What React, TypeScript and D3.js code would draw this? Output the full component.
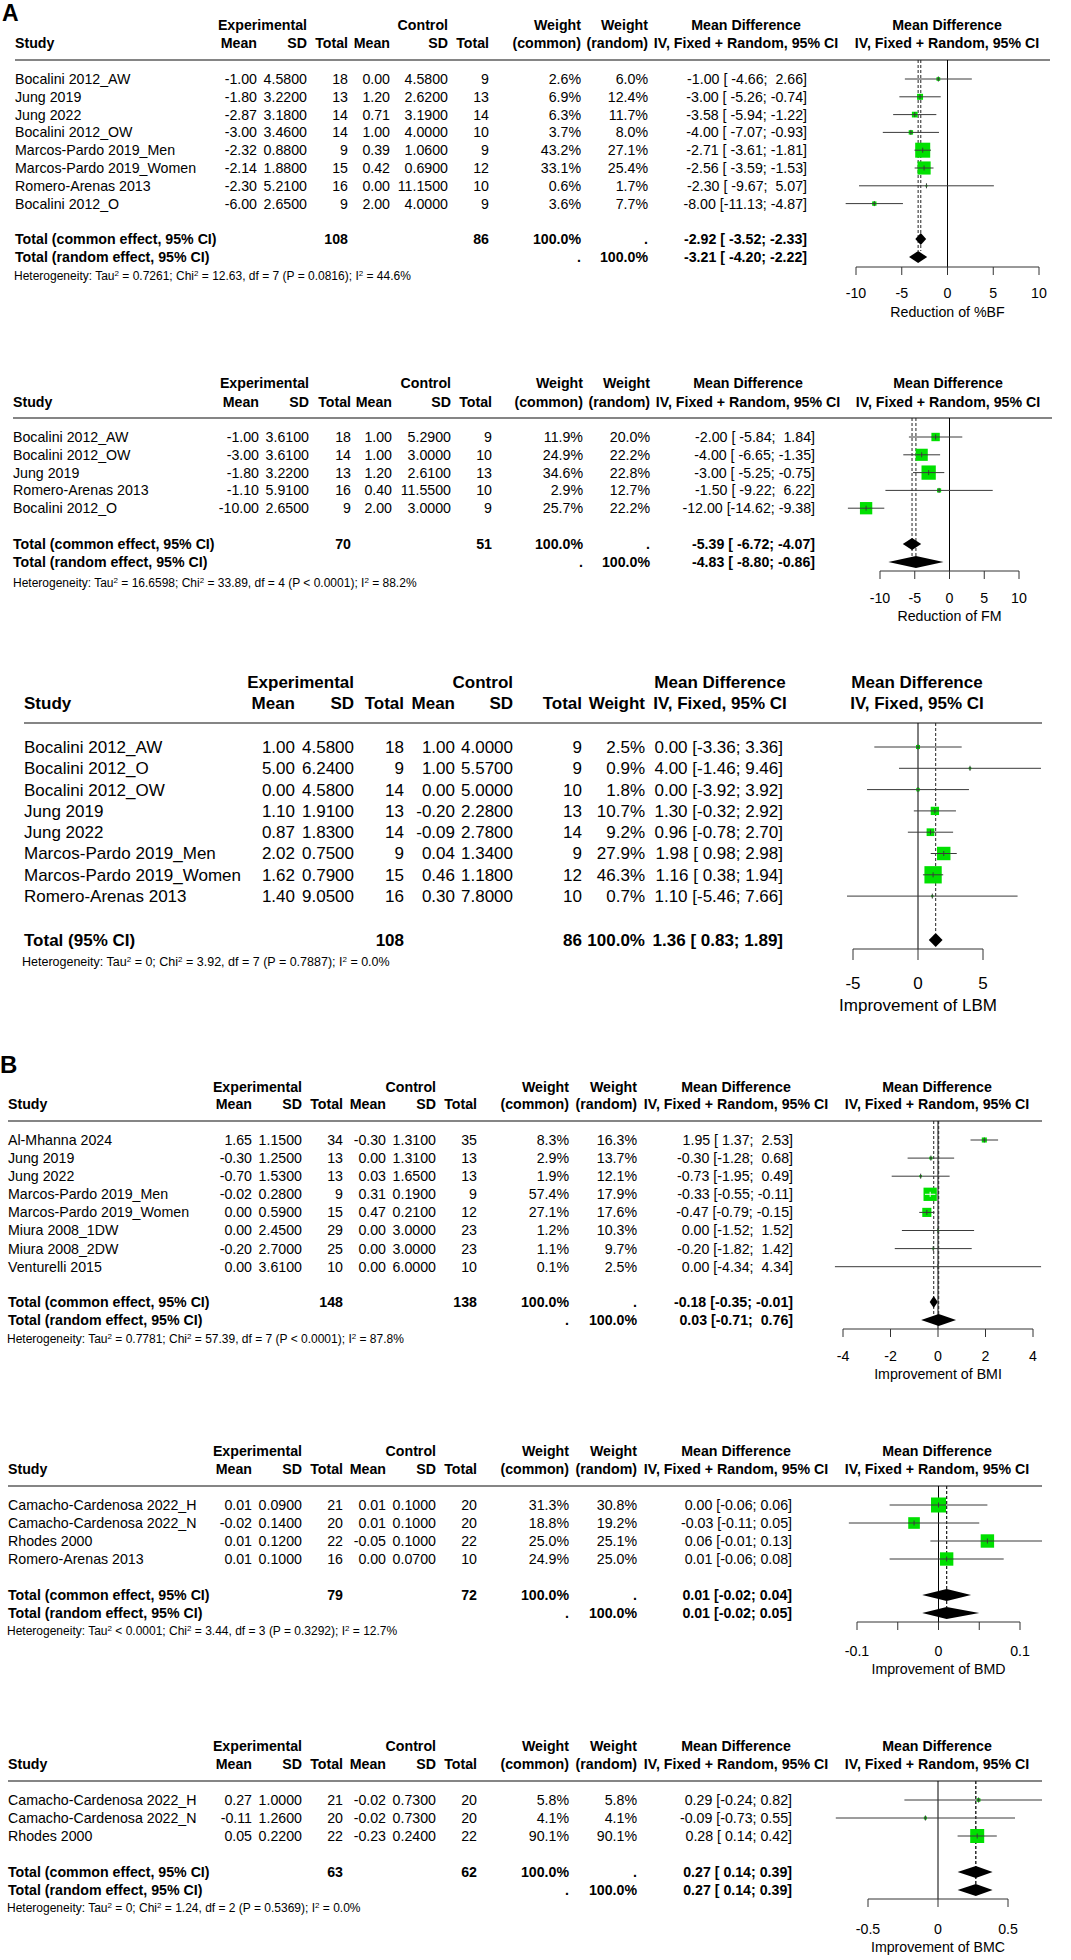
import React from 'react';
import * as d3 from 'd3';

const FONT = '"Liberation Sans", Arial, Helvetica, sans-serif';
const GREEN = '#00e000';
const LINE = '#3a3a3a';

// ---------- A: reduction of %BF ----------
const bfStudies = ['Bocalini 2012_AW', 'Jung 2019', 'Jung 2022', 'Bocalini 2012_OW', 'Marcos-Pardo 2019_Men', 'Marcos-Pardo 2019_Women', 'Romero-Arenas 2013', 'Bocalini 2012_O'];
const bfExpMean = [-1.0, -1.8, -2.87, -3.0, -2.32, -2.14, -2.3, -6.0];
const bfExpSd = [4.58, 3.22, 3.18, 3.46, 0.88, 1.88, 5.21, 2.65];
const bfExpN = [18, 13, 14, 14, 9, 15, 16, 9];
const bfCtlMean = [0.0, 1.2, 0.71, 1.0, 0.39, 0.42, 0.0, 2.0];
const bfCtlSd = [4.58, 2.62, 3.19, 4.0, 1.06, 0.69, 11.15, 4.0];
const bfCtlN = [9, 13, 14, 10, 9, 12, 10, 9];
const bfWCommon = [2.6, 6.9, 6.3, 3.7, 43.2, 33.1, 0.6, 3.6];
const bfWRandom = [6.0, 12.4, 11.7, 8.0, 27.1, 25.4, 1.7, 7.7];
const bfMd = [-1.0, -3.0, -3.58, -4.0, -2.71, -2.56, -2.3, -8.0];
const bfLo = [-4.66, -5.26, -5.94, -7.07, -3.61, -3.59, -9.67, -11.13];
const bfHi = [2.66, -0.74, -1.22, -0.93, -1.81, -1.53, 5.07, -4.87];
const bfTotals = [108, 86];
const bfCommon = [-2.92, -3.52, -2.33];
const bfRandom = [-3.21, -4.2, -2.22];
const bfHet = ['= 0.7261', '12.63', '7', '= 0.0816', '44.6'];
const bfTicks = [-10, -5, 0, 5, 10];

// ---------- A: reduction of FM ----------
const fmStudies = ['Bocalini 2012_AW', 'Bocalini 2012_OW', 'Jung 2019', 'Romero-Arenas 2013', 'Bocalini 2012_O'];
const fmExpMean = [-1.0, -3.0, -1.8, -1.1, -10.0];
const fmExpSd = [3.61, 3.61, 3.22, 5.91, 2.65];
const fmExpN = [18, 14, 13, 16, 9];
const fmCtlMean = [1.0, 1.0, 1.2, 0.4, 2.0];
const fmCtlSd = [5.29, 3.0, 2.61, 11.55, 3.0];
const fmCtlN = [9, 10, 13, 10, 9];
const fmWCommon = [11.9, 24.9, 34.6, 2.9, 25.7];
const fmWRandom = [20.0, 22.2, 22.8, 12.7, 22.2];
const fmMd = [-2.0, -4.0, -3.0, -1.5, -12.0];
const fmLo = [-5.84, -6.65, -5.25, -9.22, -14.62];
const fmHi = [1.84, -1.35, -0.75, 6.22, -9.38];
const fmTotals = [70, 51];
const fmCommon = [-5.39, -6.72, -4.07];
const fmRandom = [-4.83, -8.8, -0.86];
const fmHet = ['= 16.6598', '33.89', '4', '< 0.0001', '88.2'];
const fmTicks = [-10, -5, 0, 5, 10];

// ---------- A: improvement of LBM (fixed only) ----------
const lbmStudies = ['Bocalini 2012_AW', 'Bocalini 2012_O', 'Bocalini 2012_OW', 'Jung 2019', 'Jung 2022', 'Marcos-Pardo 2019_Men', 'Marcos-Pardo 2019_Women', 'Romero-Arenas 2013'];
const lbmExpMean = [1.0, 5.0, 0.0, 1.1, 0.87, 2.02, 1.62, 1.4];
const lbmExpSd = [4.58, 6.24, 4.58, 1.91, 1.83, 0.75, 0.79, 9.05];
const lbmExpN = [18, 9, 14, 13, 14, 9, 15, 16];
const lbmCtlMean = [1.0, 1.0, 0.0, -0.2, -0.09, 0.04, 0.46, 0.3];
const lbmCtlSd = [4.0, 5.57, 5.0, 2.28, 2.78, 1.34, 1.18, 7.8];
const lbmCtlN = [9, 9, 10, 13, 14, 9, 12, 10];
const lbmWeight = [2.5, 0.9, 1.8, 10.7, 9.2, 27.9, 46.3, 0.7];
const lbmMd = [0.0, 4.0, 0.0, 1.3, 0.96, 1.98, 1.16, 1.1];
const lbmLo = [-3.36, -1.46, -3.92, -0.32, -0.78, 0.98, 0.38, -5.46];
const lbmHi = [3.36, 9.46, 3.92, 2.92, 2.7, 2.98, 1.94, 7.66];
const lbmTotals = [108, 86];
const lbmCommon = [1.36, 0.83, 1.89];
const lbmHet = ['= 0', '3.92', '7', '= 0.7887', '0.0'];
const lbmTicks = [-5, 0, 5];

// ---------- B: improvement of BMI ----------
const bmiStudies = ['Al-Mhanna 2024', 'Jung 2019', 'Jung 2022', 'Marcos-Pardo 2019_Men', 'Marcos-Pardo 2019_Women', 'Miura 2008_1DW', 'Miura 2008_2DW', 'Venturelli 2015'];
const bmiExpMean = [1.65, -0.3, -0.7, -0.02, 0.0, 0.0, -0.2, 0.0];
const bmiExpSd = [1.15, 1.25, 1.53, 0.28, 0.59, 2.45, 2.7, 3.61];
const bmiExpN = [34, 13, 13, 9, 15, 29, 25, 10];
const bmiCtlMean = [-0.3, 0.0, 0.03, 0.31, 0.47, 0.0, 0.0, 0.0];
const bmiCtlSd = [1.31, 1.31, 1.65, 0.19, 0.21, 3.0, 3.0, 6.0];
const bmiCtlN = [35, 13, 13, 9, 12, 23, 23, 10];
const bmiWCommon = [8.3, 2.9, 1.9, 57.4, 27.1, 1.2, 1.1, 0.1];
const bmiWRandom = [16.3, 13.7, 12.1, 17.9, 17.6, 10.3, 9.7, 2.5];
const bmiMd = [1.95, -0.3, -0.73, -0.33, -0.47, 0.0, -0.2, 0.0];
const bmiLo = [1.37, -1.28, -1.95, -0.55, -0.79, -1.52, -1.82, -4.34];
const bmiHi = [2.53, 0.68, 0.49, -0.11, -0.15, 1.52, 1.42, 4.34];
const bmiTotals = [148, 138];
const bmiCommon = [-0.18, -0.35, -0.01];
const bmiRandom = [0.03, -0.71, 0.76];
const bmiHet = ['= 0.7781', '57.39', '7', '< 0.0001', '87.8'];
const bmiTicks = [-4, -2, 0, 2, 4];

// ---------- B: improvement of BMD ----------
const bmdStudies = ['Camacho-Cardenosa 2022_H', 'Camacho-Cardenosa 2022_N', 'Rhodes 2000', 'Romero-Arenas 2013'];
const bmdExpMean = [0.01, -0.02, 0.01, 0.01];
const bmdExpSd = [0.09, 0.14, 0.12, 0.1];
const bmdExpN = [21, 20, 22, 16];
const bmdCtlMean = [0.01, 0.01, -0.05, 0.0];
const bmdCtlSd = [0.1, 0.1, 0.1, 0.07];
const bmdCtlN = [20, 20, 22, 10];
const bmdWCommon = [31.3, 18.8, 25.0, 24.9];
const bmdWRandom = [30.8, 19.2, 25.1, 25.0];
const bmdMd = [0.0, -0.03, 0.06, 0.01];
const bmdLo = [-0.06, -0.11, -0.01, -0.06];
const bmdHi = [0.06, 0.05, 0.13, 0.08];
const bmdTotals = [79, 72];
const bmdCommon = [0.01, -0.02, 0.04];
const bmdRandom = [0.01, -0.02, 0.05];
const bmdHet = ['< 0.0001', '3.44', '3', '= 0.3292', '12.7'];
const bmdTicks = [-0.1, -0.05, 0, 0.05, 0.1];
const bmdTickLabels = ['-0.1', '', '0', '', '0.1'];

// ---------- B: improvement of BMC ----------
const bmcStudies = ['Camacho-Cardenosa 2022_H', 'Camacho-Cardenosa 2022_N', 'Rhodes 2000'];
const bmcExpMean = [0.27, -0.11, 0.05];
const bmcExpSd = [1.0, 1.26, 0.22];
const bmcExpN = [21, 20, 22];
const bmcCtlMean = [-0.02, -0.02, -0.23];
const bmcCtlSd = [0.73, 0.73, 0.24];
const bmcCtlN = [20, 20, 22];
const bmcWCommon = [5.8, 4.1, 90.1];
const bmcWRandom = [5.8, 4.1, 90.1];
const bmcMd = [0.29, -0.09, 0.28];
const bmcLo = [-0.24, -0.73, 0.14];
const bmcHi = [0.82, 0.55, 0.42];
const bmcTotals = [63, 62];
const bmcCommon = [0.27, 0.14, 0.39];
const bmcRandom = [0.27, 0.14, 0.39];
const bmcHet = ['= 0', '1.24', '2', '= 0.5369', '0.0'];
const bmcTicks = [-0.5, 0, 0.5];

interface PanelData {
  studies: string[];
  eMean: number[]; eSd: number[]; eN: number[];
  cMean: number[]; cSd: number[]; cN: number[];
  wC: number[]; wR?: number[];
  md: number[]; lo: number[]; hi: number[];
  totals: number[]; common: number[]; random?: number[];
  het: string[]; ticks: number[]; tickLabels?: string[]; title: string;
}

interface Layout {
  h1: number; h2: number; rule: number; row0: number; step: number;
  commonY: number; randomY?: number; hetY: number; hetX: number;
  axisY: number; labelY: number; titleY: number; tickLen: number;
  font: number; hetFont: number;
  cols: { study: number; eMean: number; eSd: number; eN: number; cMean: number; cSd: number; cN: number; wC: number; wR: number; md: number };
  mdHead: number; plotHead: number; ruleX: [number, number];
  range: [number, number]; boxMax: number; diamondH: number;
}

const colsA1 = { study: 15, eMean: 257, eSd: 307, eN: 348, cMean: 390, cSd: 448, cN: 489, wC: 581, wR: 648, md: 807 };
const colsA2 = { study: 13, eMean: 259, eSd: 309, eN: 351, cMean: 392, cSd: 451, cN: 492, wC: 583, wR: 650, md: 815 };
const colsA3 = { study: 24, eMean: 295, eSd: 354, eN: 404, cMean: 455, cSd: 513, cN: 582, wC: 645, wR: 645, md: 783 };
const colsB = { study: 8, eMean: 252, eSd: 302, eN: 343, cMean: 386, cSd: 436, cN: 477, wC: 569, wR: 637, md: 793 };

const panels: { d: PanelData; l: Layout }[] = [
  {
    d: { studies: bfStudies, eMean: bfExpMean, eSd: bfExpSd, eN: bfExpN, cMean: bfCtlMean, cSd: bfCtlSd, cN: bfCtlN, wC: bfWCommon, wR: bfWRandom, md: bfMd, lo: bfLo, hi: bfHi, totals: bfTotals, common: bfCommon, random: bfRandom, het: bfHet, ticks: bfTicks, title: 'Reduction of %BF' },
    l: { h1: 25, h2: 43, rule: 60, row0: 79, step: 17.8, commonY: 239, randomY: 257, hetY: 276, hetX: 14, axisY: 267, labelY: 293, titleY: 312, tickLen: 8, font: 14.2, hetFont: 12, cols: colsA1, mdHead: 746, plotHead: 947, ruleX: [15, 1050], range: [856, 1039], boxMax: 15, diamondH: 6 },
  },
  {
    d: { studies: fmStudies, eMean: fmExpMean, eSd: fmExpSd, eN: fmExpN, cMean: fmCtlMean, cSd: fmCtlSd, cN: fmCtlN, wC: fmWCommon, wR: fmWRandom, md: fmMd, lo: fmLo, hi: fmHi, totals: fmTotals, common: fmCommon, random: fmRandom, het: fmHet, ticks: fmTicks, title: 'Reduction of FM' },
    l: { h1: 383, h2: 402, rule: 418, row0: 437, step: 17.8, commonY: 544, randomY: 562, hetY: 583, hetX: 13, axisY: 571, labelY: 598, titleY: 616, tickLen: 8, font: 14.2, hetFont: 12, cols: colsA2, mdHead: 748, plotHead: 948, ruleX: [13, 1052], range: [880, 1019], boxMax: 14.3, diamondH: 6 },
  },
  {
    d: { studies: lbmStudies, eMean: lbmExpMean, eSd: lbmExpSd, eN: lbmExpN, cMean: lbmCtlMean, cSd: lbmCtlSd, cN: lbmCtlN, wC: lbmWeight, md: lbmMd, lo: lbmLo, hi: lbmHi, totals: lbmTotals, common: lbmCommon, het: lbmHet, ticks: lbmTicks, title: 'Improvement of LBM' },
    l: { h1: 682, h2: 703, rule: 723, row0: 747, step: 21.3, commonY: 940, hetY: 962, hetX: 22, axisY: 949, labelY: 983, titleY: 1005, tickLen: 11, font: 17, hetFont: 12.5, cols: colsA3, mdHead: 720, plotHead: 917, ruleX: [24, 1042], range: [853, 983], boxMax: 17.3, diamondH: 7 },
  },
  {
    d: { studies: bmiStudies, eMean: bmiExpMean, eSd: bmiExpSd, eN: bmiExpN, cMean: bmiCtlMean, cSd: bmiCtlSd, cN: bmiCtlN, wC: bmiWCommon, wR: bmiWRandom, md: bmiMd, lo: bmiLo, hi: bmiHi, totals: bmiTotals, common: bmiCommon, random: bmiRandom, het: bmiHet, ticks: bmiTicks, title: 'Improvement of BMI' },
    l: { h1: 1087, h2: 1104, rule: 1121, row0: 1140, step: 18.1, commonY: 1302, randomY: 1320, hetY: 1339, hetX: 7, axisY: 1329, labelY: 1356, titleY: 1374, tickLen: 8, font: 14.2, hetFont: 12, cols: colsB, mdHead: 736, plotHead: 937, ruleX: [8, 1042], range: [843, 1033], boxMax: 13.3, diamondH: 6 },
  },
  {
    d: { studies: bmdStudies, eMean: bmdExpMean, eSd: bmdExpSd, eN: bmdExpN, cMean: bmdCtlMean, cSd: bmdCtlSd, cN: bmdCtlN, wC: bmdWCommon, wR: bmdWRandom, md: bmdMd, lo: bmdLo, hi: bmdHi, totals: bmdTotals, common: bmdCommon, random: bmdRandom, het: bmdHet, ticks: bmdTicks, tickLabels: bmdTickLabels, title: 'Improvement of BMD' },
    l: { h1: 1451, h2: 1469, rule: 1486, row0: 1505, step: 18, commonY: 1595, randomY: 1613, hetY: 1631, hetX: 7, axisY: 1622, labelY: 1651, titleY: 1669, tickLen: 8, font: 14.2, hetFont: 12, cols: { ...colsB, md: 792 }, mdHead: 736, plotHead: 937, ruleX: [8, 1042], range: [857, 1020], boxMax: 15, diamondH: 6 },
  },
  {
    d: { studies: bmcStudies, eMean: bmcExpMean, eSd: bmcExpSd, eN: bmcExpN, cMean: bmcCtlMean, cSd: bmcCtlSd, cN: bmcCtlN, wC: bmcWCommon, wR: bmcWRandom, md: bmcMd, lo: bmcLo, hi: bmcHi, totals: bmcTotals, common: bmcCommon, random: bmcRandom, het: bmcHet, ticks: bmcTicks, title: 'Improvement of BMC' },
    l: { h1: 1746, h2: 1764, rule: 1781, row0: 1800, step: 18, commonY: 1872, randomY: 1890, hetY: 1908, hetX: 7, axisY: 1899, labelY: 1929, titleY: 1947, tickLen: 8, font: 14.2, hetFont: 12, cols: { ...colsB, md: 792 }, mdHead: 736, plotHead: 937, ruleX: [8, 1042], range: [868, 1008], boxMax: 14, diamondH: 6 },
  },
];

const T: React.FC<{ x: number; y: number; size: number; anchor?: string; bold?: boolean; children: React.ReactNode }> = ({ x, y, size, anchor = 'end', bold = false, children }) => (
  <text x={x} y={y} dy="0.35em" textAnchor={anchor} fontSize={size} fontWeight={bold ? 'bold' : 'normal'} style={{ whiteSpace: 'pre' }}>
    {children}
  </text>
);

const ForestPanel: React.FC<{ d: PanelData; l: Layout }> = ({ d, l }) => {
  const x = d3.scaleLinear().domain([d.ticks[0], d.ticks[d.ticks.length - 1]]).range(l.range);
  const clip = (v: number) => Math.max(l.ruleX[0], Math.min(l.ruleX[1], v));
  const rowY = (i: number) => l.row0 + i * l.step;
  const maxW = d3.max(d.wC) as number;
  const side = (w: number) => l.boxMax * Math.sqrt(w / maxW);
  const c = l.cols;
  const f = l.font;
  const hasRandom = !!d.random;

  // pad CI bounds like meta does
  const loAll = [...d.lo, d.common[1], ...(d.random ? [d.random[1]] : [])];
  const hiAll = [...d.hi, d.common[2], ...(d.random ? [d.random[2]] : [])];
  const loW = d3.max(loAll, (v) => v.toFixed(2).length) as number;
  const hiW = d3.max(hiAll, (v) => v.toFixed(2).length) as number;
  const ci = (e: number, lo: number, hi: number) => `${e.toFixed(2)} [${lo.toFixed(2).padStart(loW)}; ${hi.toFixed(2).padStart(hiW)}]`;

  const diamond = (v: number[], y: number) => {
    const h = l.diamondH;
    return `${x(v[1])},${y} ${x(v[0])},${y - h} ${x(v[2])},${y} ${x(v[0])},${y + h}`;
  };

  const lastY = hasRandom ? (l.randomY as number) : l.commonY;
  const subtitle = hasRandom ? 'IV, Fixed + Random, 95% CI' : 'IV, Fixed, 95% CI';
  const sup = Math.round(l.hetFont * 0.65);

  return (
    <g>
      {/* headers */}
      <T x={c.eSd} y={l.h1} size={f} bold>Experimental</T>
      <T x={c.cSd} y={l.h1} size={f} bold>Control</T>
      {hasRandom && <T x={c.wC} y={l.h1} size={f} bold>Weight</T>}
      {hasRandom && <T x={c.wR} y={l.h1} size={f} bold>Weight</T>}
      <T x={l.mdHead} y={l.h1} size={f} bold anchor="middle">Mean Difference</T>
      <T x={l.plotHead} y={l.h1} size={f} bold anchor="middle">Mean Difference</T>
      <T x={c.study} y={l.h2} size={f} bold anchor="start">Study</T>
      <T x={c.eMean} y={l.h2} size={f} bold>Mean</T>
      <T x={c.eSd} y={l.h2} size={f} bold>SD</T>
      <T x={c.eN} y={l.h2} size={f} bold>Total</T>
      <T x={c.cMean} y={l.h2} size={f} bold>Mean</T>
      <T x={c.cSd} y={l.h2} size={f} bold>SD</T>
      <T x={c.cN} y={l.h2} size={f} bold>Total</T>
      {hasRandom ? (
        <>
          <T x={c.wC} y={l.h2} size={f} bold>(common)</T>
          <T x={c.wR} y={l.h2} size={f} bold>(random)</T>
        </>
      ) : (
        <T x={c.wC} y={l.h2} size={f} bold>Weight</T>
      )}
      <T x={l.mdHead} y={l.h2} size={f} bold anchor="middle">{subtitle}</T>
      <T x={l.plotHead} y={l.h2} size={f} bold anchor="middle">{subtitle}</T>
      <line x1={l.ruleX[0]} x2={l.ruleX[1]} y1={l.rule} y2={l.rule} stroke="#858585" strokeWidth={1.8} />

      {/* study rows */}
      {d.studies.map((s, i) => (
        <g key={s}>
          <T x={c.study} y={rowY(i)} size={f} anchor="start">{s}</T>
          <T x={c.eMean} y={rowY(i)} size={f}>{d.eMean[i].toFixed(2)}</T>
          <T x={c.eSd} y={rowY(i)} size={f}>{d.eSd[i].toFixed(4)}</T>
          <T x={c.eN} y={rowY(i)} size={f}>{d.eN[i]}</T>
          <T x={c.cMean} y={rowY(i)} size={f}>{d.cMean[i].toFixed(2)}</T>
          <T x={c.cSd} y={rowY(i)} size={f}>{d.cSd[i].toFixed(4)}</T>
          <T x={c.cN} y={rowY(i)} size={f}>{d.cN[i]}</T>
          <T x={c.wC} y={rowY(i)} size={f}>{d.wC[i].toFixed(1) + '%'}</T>
          {d.wR && <T x={c.wR} y={rowY(i)} size={f}>{d.wR[i].toFixed(1) + '%'}</T>}
          <T x={c.md} y={rowY(i)} size={f}>{ci(d.md[i], d.lo[i], d.hi[i])}</T>
        </g>
      ))}

      {/* totals */}
      <T x={c.study} y={l.commonY} size={f} bold anchor="start">{hasRandom ? 'Total (common effect, 95% CI)' : 'Total (95% CI)'}</T>
      <T x={c.eN} y={l.commonY} size={f} bold>{d.totals[0]}</T>
      <T x={c.cN} y={l.commonY} size={f} bold>{d.totals[1]}</T>
      <T x={c.wC} y={l.commonY} size={f} bold>100.0%</T>
      {hasRandom && <T x={c.wR} y={l.commonY} size={f} bold>.</T>}
      <T x={c.md} y={l.commonY} size={f} bold>{ci(d.common[0], d.common[1], d.common[2])}</T>
      {d.random && (
        <>
          <T x={c.study} y={l.randomY as number} size={f} bold anchor="start">Total (random effect, 95% CI)</T>
          <T x={c.wC} y={l.randomY as number} size={f} bold>.</T>
          <T x={c.wR} y={l.randomY as number} size={f} bold>100.0%</T>
          <T x={c.md} y={l.randomY as number} size={f} bold>{ci(d.random[0], d.random[1], d.random[2])}</T>
        </>
      )}

      {/* heterogeneity */}
      <text x={l.hetX} y={l.hetY} dy="0.35em" fontSize={l.hetFont} style={{ whiteSpace: 'pre' }}>
        Heterogeneity: Tau<tspan dy={-4} fontSize={sup}>2</tspan>
        <tspan dy={4}>{` ${d.het[0]}; Chi`}</tspan>
        <tspan dy={-4} fontSize={sup}>2</tspan>
        <tspan dy={4}>{` = ${d.het[1]}, df = ${d.het[2]} (P ${d.het[3]}); I`}</tspan>
        <tspan dy={-4} fontSize={sup}>2</tspan>
        <tspan dy={4}>{` = ${d.het[4]}%`}</tspan>
      </text>

      {/* reference lines */}
      <line x1={x(0)} x2={x(0)} y1={l.rule} y2={l.axisY} stroke="#000" strokeWidth={1} />
      <line x1={x(d.common[0])} x2={x(d.common[0])} y1={l.rule} y2={lastY - l.diamondH} stroke="#222" strokeWidth={1} strokeDasharray="3,2" />
      {d.random && (
        <line x1={x(d.random[0])} x2={x(d.random[0])} y1={l.rule} y2={lastY - l.diamondH} stroke="#222" strokeWidth={1} strokeDasharray="3,2" />
      )}

      {/* study marks */}
      {d.studies.map((s, i) => {
        const y = rowY(i);
        const b = side(d.wC[i]);
        const x0 = clip(x(d.lo[i]));
        const x1 = clip(x(d.hi[i]));
        const inside = x(d.hi[i]) - x(d.lo[i]) < b;
        const col = inside ? '#fff' : LINE;
        const tick = 5;
        return (
          <g key={'m' + s}>
            {!inside && <line x1={x0} x2={x1} y1={y} y2={y} stroke={LINE} strokeWidth={1} />}
            <rect x={x(d.md[i]) - b / 2} y={y - b / 2} width={b} height={b} fill={GREEN} />
            <line x1={inside ? x0 : x(d.md[i]) - b / 2} x2={inside ? x1 : x(d.md[i]) + b / 2} y1={y} y2={y} stroke={col} strokeWidth={1} />
            <line x1={x(d.md[i])} x2={x(d.md[i])} y1={y - tick / 2} y2={y + tick / 2} stroke={col} strokeWidth={1} />
          </g>
        );
      })}

      {/* summary diamonds */}
      <polygon points={diamond(d.common, l.commonY)} fill="#000" />
      {d.random && <polygon points={diamond(d.random, l.randomY as number)} fill="#000" />}

      {/* x axis */}
      <line x1={x(d.ticks[0])} x2={x(d.ticks[d.ticks.length - 1])} y1={l.axisY} y2={l.axisY} stroke="#333" strokeWidth={1} />
      {d.ticks.map((t, i) => (
        <g key={'t' + t}>
          <line x1={x(t)} x2={x(t)} y1={l.axisY} y2={l.axisY + l.tickLen} stroke="#333" strokeWidth={1} />
          <T x={x(t)} y={l.labelY} size={f} anchor="middle">{d.tickLabels ? d.tickLabels[i] : String(t)}</T>
        </g>
      ))}
      <T x={x(0)} y={l.titleY} size={f} anchor="middle">{d.title}</T>
    </g>
  );
};

const App: React.FC = () => (
  <div style={{ position: 'absolute', left: 0, top: 0 }}>
    <svg width={1071} height={1960} style={{ display: 'block', background: '#fff' }} fontFamily={FONT} fill="#000">
      <text x={2} y={21} fontSize={23} fontWeight="bold">A</text>
      <text x={0} y={1073} fontSize={24} fontWeight="bold">B</text>
      {panels.map((p, i) => (
        <ForestPanel key={i} d={p.d} l={p.l} />
      ))}
    </svg>
  </div>
);

export default App;
